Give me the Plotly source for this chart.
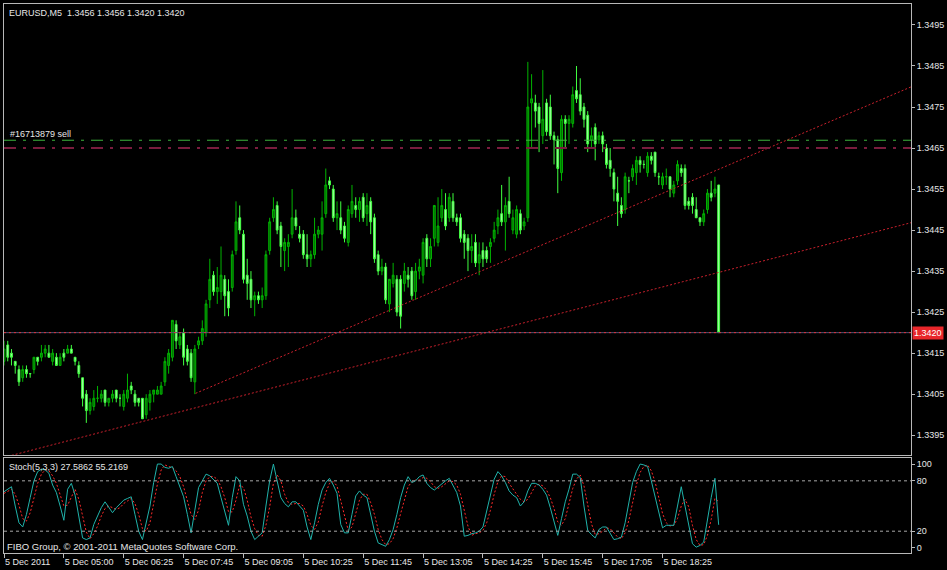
import plotly.graph_objects as go

# ---------------- data (prices in pips above BASE) ----------------
BASE = 1.3400
PIP = 0.0001

open_pips = [13,17,15,13,11,9,11,10,11,14, 14,15,15,13,14,12,15,15,16,14,
             12,9,5,1,2,4,4,6,3,4, 6,4,2,4,7,5,4,4,0,3,
             5,5,5,8,12,14,22,17,20,16, 15,8,17,18,20,28,34,30,30,33,
             30,31,40,48,44,34,33,28,29,28, 29,40,48,51,46,40,41,44,48,44,
             44,39,38,39,44,44,49,57,55,48, 48,46,42,49,51,50,53,49,52,48,
             39,35,36,27,32,33,33,32,34,35, 30,35,34,43,38,43,42,48,50,48,
             52,48,48,44,43,40,42,37,40,40, 41,43,46,49,47,52,45,44,49,46,
             48,76,76,75,68,76,75,68,67,59, 72,71,71,79,78,75,73,67,70,67,
             68,65,62,59,54,51,50,57,58,59, 62,61,59,63,64,58,56,58,58,54,
             57,60,60,52,53,50,48,47,50,54, 54,56]
high_pips = [18,18,16,13,12,12,12,10,14,14, 17,17,17,16,15,15,16,17,17,14,
             13,9,6,4,6,7,6,6,4,6, 6,5,6,10,8,6,4,4,5,6,
             6,7,8,14,16,23,23,20,21,17, 16,17,19,23,28,38,35,36,41,34,
             33,40,52,51,45,38,35,30,30,31, 40,48,53,52,47,43,44,55,50,46,
             45,44,40,48,46,52,60,58,56,52, 52,47,51,56,53,53,54,54,53,49,
             40,38,37,33,37,34,34,37,36,36, 37,38,43,44,43,51,53,55,54,54,
             54,49,49,45,44,44,44,42,42,41, 43,47,50,56,53,58,50,51,50,48,
             86,83,78,76,84,77,78,69,68,73, 73,73,80,85,82,76,74,70,71,69,
             69,66,65,60,58,53,59,58,61,63, 63,62,64,64,64,59,59,60,58,57,
             62,61,61,53,54,53,48,50,55,57, 58,56]
low_pips = [12,13,12,10,7,8,9,9,10,12, 13,14,14,12,12,12,13,15,15,12,
            9,2,-2,0,1,3,3,2,2,3, 3,2,1,3,5,2,2,-1,-1,1,
            3,5,5,7,10,13,16,16,12,12, 8,5,16,17,19,26,29,27,28,24,
            24,30,39,44,32,28,26,24,27,26, 28,39,47,44,36,35,36,43,45,42,
            38,36,36,38,43,40,48,55,47,45, 44,42,41,48,48,47,47,46,44,37,
            34,34,27,25,31,24,21,30,31,28, 28,33,32,36,36,41,41,47,45,47,
            47,46,42,38,35,37,36,34,36,37, 37,42,44,46,40,48,44,43,44,45,
            47,65,70,64,66,68,67,61,54,57, 65,66,70,76,73,70,64,65,62,66,
            64,60,58,52,46,48,49,54,57,56, 59,60,58,61,58,56,55,56,53,53,
            56,58,50,50,49,48,46,46,49,52, 53,20]
close_pips = [16,14,14,12,8,11,10,10,14,13, 15,16,14,15,12,14,14,16,15,13,
              10,4,1,3,4,4,5,3,4,5, 4,4,5,6,6,3,3,-1,4,5,
              6,6,7,13,15,23,18,19,14,13, 9,16,18,21,27,33,30,31,34,29,
              26,39,47,45,33,32,28,29,28,29, 39,47,50,45,41,42,42,48,46,43,
              39,38,39,44,45,48,56,56,48,49, 45,43,50,52,50,52,48,51,47,38,
              35,36,28,33,34,25,24,35,33,29, 35,36,42,38,41,51,46,51,46,53,
              48,47,43,42,40,41,37,39,38,38, 42,45,48,47,51,49,48,50,45,47,
              75,77,74,71,72,69,68,67,60,72, 71,72,78,77,74,72,66,68,66,68,
              66,61,60,55,52,49,58,57,60,62, 61,61,63,62,59,58,58,58,55,56,
              61,59,51,51,51,48,47,49,54,53, 55,20]

stoch_k = [67,70,73,50,30,25,40,60,80,91, 94,93,89,75,66,50,33,70,77,63,
           35,12,10,12,28,38,48,55,48,42, 48,53,57,59,61,40,20,10,30,50,
           78,100,100,96,95,97,85,72,61,40, 18,45,72,80,88,86,82,77,60,42,
           27,60,85,80,52,38,20,10,14,18, 50,80,100,80,60,53,49,55,55,50,
           45,25,10,30,52,69,78,83,75,65, 28,18,18,40,62,68,63,60,40,20,
           6,4,2,10,22,40,60,75,85,78, 80,85,87,77,72,69,73,77,80,83,
           75,66,50,14,15,17,18,20,25,45, 65,82,91,86,78,68,63,60,50,55,
           68,77,77,75,70,63,48,30,15,35, 55,70,88,88,84,50,21,16,12,22,
           25,25,18,10,11,13,30,55,78,91, 100,99,97,80,60,40,24,27,27,27,
           50,73,50,25,5,1,3,7,35,60, 83,27.5862]
stoch_d = [65,68,70,64,51,35,32,42,60,77, 88,93,92,86,77,64,50,51,60,70,
           58,37,19,11,17,26,38,47,50,48, 46,48,53,56,59,53,40,23,20,30,
           53,76,93,99,97,96,92,85,73,58, 40,34,45,66,80,85,85,82,73,60,
           43,43,57,75,72,57,37,23,15,14, 27,49,77,87,80,64,54,52,53,53,
           50,40,27,22,31,50,66,77,79,74, 56,37,21,25,40,57,64,64,54,40,
           22,10,4,5,11,24,41,58,73,79, 81,81,84,83,79,73,71,73,77,80,
           79,75,64,43,26,15,17,18,21,30, 45,64,79,86,85,77,70,64,58,55,
           58,67,74,76,74,69,60,47,31,27, 35,53,71,82,87,74,52,29,16,17,
           20,24,23,18,13,11,18,33,54,75, 90,97,99,92,79,60,41,30,26,27,
           35,50,58,49,27,10,3,4,15,34, 59,55.2169]

tick_bars = [0, 16, 32, 48, 64, 80, 96, 112, 128, 144, 160, 176]
tick_labels = ["5 Dec 2011", "5 Dec 05:00", "5 Dec 06:25", "5 Dec 07:45",
               "5 Dec 09:05", "5 Dec 10:25", "5 Dec 11:45", "5 Dec 13:05",
               "5 Dec 14:25", "5 Dec 15:45", "5 Dec 17:05", "5 Dec 18:25"]
price_ticks = [1.3395, 1.3405, 1.3415, 1.3425, 1.3435, 1.3445,
               1.3455, 1.3465, 1.3475, 1.3485, 1.3495]
stoch_ticks = [0, 20, 80, 100]
stoch_levels = [20, 80]

# trendline anchors (bar index, price)
trend_upper_x = [51.2, 242.4]
trend_upper_y = [1.34052, 1.34799]
trend_lower_x = [0.0, 242.4]
trend_lower_y = [1.33896, 1.34468]

bid_level = 1.3420
order_level = 1.34669
sell_level = 1.3465

title_text = "EURUSD,M5\u00a0\u00a01.3456 1.3456 1.3420 1.3420"
order_label = "#16713879 sell"
stoch_label = "Stoch(5,3,3) 27.5862 55.2169"
copyright_label = "FIBO Group, \u00a9 2001-2011 MetaQuotes Software Corp."

# ---------------- figure ----------------
bars = list(range(len(open_pips)))
to_price = lambda arr: [BASE + v * PIP for v in arr]

FONT = "Liberation Sans, Arial, sans-serif"
TXT = "#e6e6e6"
FRAME = "#b8b8b8"
X_RANGE = [0.0, 242.4]

fig = go.Figure()

fig.add_trace(go.Candlestick(
    x=bars, open=to_price(open_pips), high=to_price(high_pips),
    low=to_price(low_pips), close=to_price(close_pips),
    xaxis="x", yaxis="y",
    increasing=dict(line=dict(color="#00b400", width=1), fillcolor="#006a00"),
    decreasing=dict(line=dict(color="#40ff40", width=1), fillcolor="#b0ffb0"),
    whiskerwidth=0, hoverinfo="skip", showlegend=False))

for tx, ty in [(trend_upper_x, trend_upper_y), (trend_lower_x, trend_lower_y)]:
    fig.add_trace(go.Scatter(x=tx, y=ty, mode="lines", xaxis="x", yaxis="y",
                             line=dict(color="#c8202c", width=1, dash="2px,2px"),
                             hoverinfo="skip", showlegend=False))

fig.add_trace(go.Scatter(x=bars, y=stoch_d, mode="lines", xaxis="x2", yaxis="y2",
                         line=dict(color="#ff2a2a", width=1, dash="2px,2px"),
                         hoverinfo="skip", showlegend=False))
fig.add_trace(go.Scatter(x=bars, y=stoch_k, mode="lines", xaxis="x2", yaxis="y2",
                         line=dict(color="#20b2aa", width=1),
                         hoverinfo="skip", showlegend=False))

shapes = [
    dict(type="line", xref="x domain", yref="y", x0=0, x1=1, y0=bid_level, y1=bid_level,
         line=dict(color="#505070", width=1)),
    dict(type="line", xref="x domain", yref="y", x0=0, x1=1, y0=bid_level, y1=bid_level,
         line=dict(color="#e0303a", width=1, dash="2px,3px")),
    dict(type="line", xref="x domain", yref="y", x0=0, x1=1, y0=order_level, y1=order_level,
         line=dict(color="#3cb43c", width=1, dash="12px,7px,3px,7px")),
    dict(type="line", xref="x domain", yref="y", x0=0, x1=1, y0=sell_level, y1=sell_level,
         line=dict(color="#7a1c3e", width=2, dash="12px,7px,3px,7px")),
]
for lv in stoch_levels:
    shapes.append(dict(type="line", xref="x2 domain", yref="y2", x0=0, x1=1, y0=lv, y1=lv,
                       line=dict(color="#a8a8a8", width=1, dash="3px,3px")))

annotations = [
    dict(text=title_text, xref="paper", yref="paper", x=0, y=1, xanchor="left", yanchor="top",
         xshift=3, yshift=-2, showarrow=False, font=dict(family=FONT, size=9, color=TXT)),
    dict(text=order_label, xref="paper", yref="y", x=0, y=1.34685, xanchor="left", yanchor="middle",
         xshift=4, showarrow=False, font=dict(family=FONT, size=9, color=TXT)),
    dict(text=stoch_label, xref="paper", yref="y2", x=0, y=97, xanchor="left", yanchor="middle",
         xshift=3, showarrow=False, font=dict(family=FONT, size=9, color=TXT)),
    dict(text=copyright_label, xref="paper", yref="y2", x=0, y=2, xanchor="left", yanchor="middle",
         xshift=1, showarrow=False, font=dict(family=FONT, size=9.5, color=TXT)),
    dict(text="1.3420", xref="paper", yref="y", x=1, y=bid_level, xanchor="left", yanchor="middle",
         xshift=1, showarrow=False, bgcolor="#e8262a", borderpad=1,
         font=dict(family=FONT, size=9, color="#ffffff")),
]

axis_common = dict(showgrid=False, zeroline=False, showline=True, mirror=True,
                   linecolor=FRAME, linewidth=1)

fig.update_layout(
    width=947, height=570,
    margin=dict(l=3, r=35, t=3, b=17),
    paper_bgcolor="#000000", plot_bgcolor="#000000",
    showlegend=False, hovermode=False,
    shapes=shapes, annotations=annotations,
    xaxis=dict(domain=[0, 1], anchor="y", range=X_RANGE, showticklabels=False,
               ticks="", rangeslider=dict(visible=False), **axis_common),
    xaxis2=dict(domain=[0, 1], anchor="y2", range=X_RANGE, matches="x",
                tickmode="array", tickvals=tick_bars, ticktext=tick_labels,
                ticks="outside", ticklen=4, tickcolor=FRAME,
                ticklabelposition="outside right",
                tickfont=dict(family=FONT, size=9, color=TXT), **axis_common),
    yaxis=dict(domain=[0.1782, 1], anchor="x", side="right",
               range=[1.339013, 1.350011], tickmode="array", tickvals=price_ticks,
               tickformat=".4f", ticks="outside", ticklen=3, tickcolor=FRAME,
               tickfont=dict(family=FONT, size=9, color=TXT), **axis_common),
    yaxis2=dict(domain=[0, 0.1727], anchor="x2", side="right", range=[-6, 107],
                tickmode="array", tickvals=stoch_ticks, ticks="outside", ticklen=3,
                tickcolor=FRAME, tickfont=dict(family=FONT, size=9, color=TXT),
                **axis_common),
)

fig.write_html("out.html", config={"displayModeBar": False},
               post_script="document.body.style.margin='0';document.body.style.background='#000';")
